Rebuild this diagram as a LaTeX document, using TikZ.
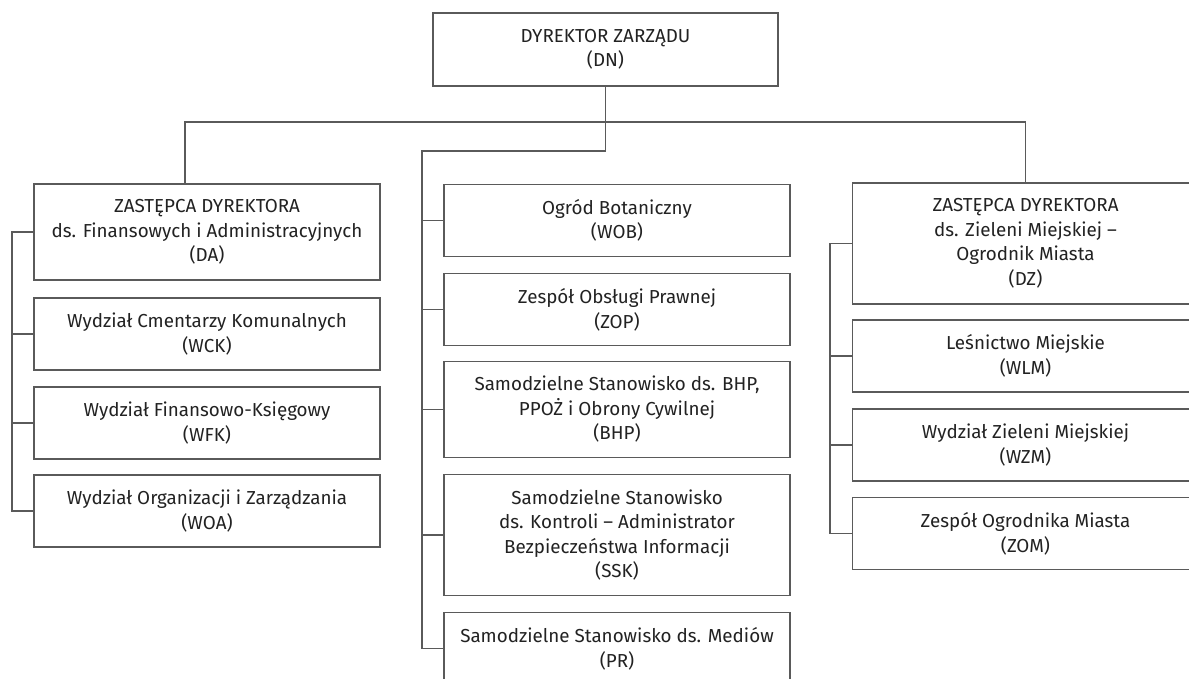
\documentclass[tikz,border=0pt]{standalone}
\usepackage{fontspec}
\setmainfont{Fira Sans}
\usepackage{xcolor}
\usetikzlibrary{positioning}
\definecolor{linegray}{HTML}{5A5A5A}
\definecolor{textgray}{HTML}{222222}
\tikzset{
  orgbox/.style={draw=linegray, line width=1.3pt, fill=white, text=textgray,
    align=center, minimum width=346pt, inner sep=0pt, outer sep=0pt,
    font=\fontsize{18.8}{24.5}\selectfont},
  box2/.style={orgbox, minimum height=72pt},
  box3/.style={orgbox, minimum height=96pt},
  box4/.style={orgbox, minimum height=121pt},
  conn/.style={draw=linegray, line width=1.3pt}
}
\begin{document}
\begin{tikzpicture}[x=1pt,y=-1pt]
\useasboundingbox (0,0) rectangle (1189,679);
\clip (0,0) rectangle (1189,679);
\fill[white] (0,0) rectangle (1189,679);
% top
\node[box2, minimum width=345pt, minimum height=73pt] (dn) at (605.5,49.5) {DYREKTOR ZARZĄDU\\(DN)};
% left column
\node[box3] (da) at (207,232) {ZASTĘPCA DYREKTORA\\ds. Finansowych i Administracyjnych\\(DA)};
\node[box2, below=18pt of da] (wck) {Wydział Cmentarzy Komunalnych\\(WCK)};
\node[box2, below=17pt of wck] (wfk) {Wydział Finansowo-Księgowy\\(WFK)};
\node[box2, below=16pt of wfk] (woa) {Wydział Organizacji i Zarządzania\\(WOA)};
% middle column
\node[box2] (wob) at (617,220.3) {Ogród Botaniczny\\(WOB)};
\node[box2, below=17.3pt of wob] (zop) {Zespół Obsługi Prawnej\\(ZOP)};
\node[box3, below=15.7pt of zop] (bhp) {Samodzielne Stanowisko ds. BHP,\\PPOŻ i Obrony Cywilnej\\(BHP)};
\node[box4, below=17.3pt of bhp] (ssk) {Samodzielne Stanowisko\\ds. Kontroli -- Administrator\\Bezpieczeństwa Informacji\\(SSK)};
\node[box2, below=17pt of ssk] (pr) {Samodzielne Stanowisko ds. Mediów\\(PR)};
% right column
\node[box4] (dz) at (1025.5,243.5) {ZASTĘPCA DYREKTORA\\ds. Zieleni Miejskiej --\\Ogrodnik Miasta\\(DZ)};
\node[box2, below=16pt of dz] (wlm) {Leśnictwo Miejskie\\(WLM)};
\node[box2, below=17pt of wlm] (wzm) {Wydział Zieleni Miejskiej\\(WZM)};
\node[box2, below=16.7pt of wzm] (zom) {Zespół Ogrodnika Miasta\\(ZOM)};
% lines
\coordinate (bar) at (185,122);
\coordinate (mid) at (422,151);
\coordinate (lsp) at (12,0);
\coordinate (rsp) at (830,0);
\draw[conn] (da.north -| bar) -- (bar) -| (dz.north);
\draw[conn] (dn.south) |- (mid) |- (pr.west);
\draw[conn] (da.west) -- (da.west -| lsp) |- (woa.west);
\draw[conn] (dz.west) -- (dz.west -| rsp) |- (zom.west);
\foreach \b in {wck,wfk}
\draw[conn] (\b.west) -- (\b.west -| lsp);
\foreach \b in {wob,zop,bhp,ssk}
\draw[conn] (\b.west) -- (\b.west -| mid);
\foreach \b in {wlm,wzm}
\draw[conn] (\b.west) -- (\b.west -| rsp);
\end{tikzpicture}
\end{document}
